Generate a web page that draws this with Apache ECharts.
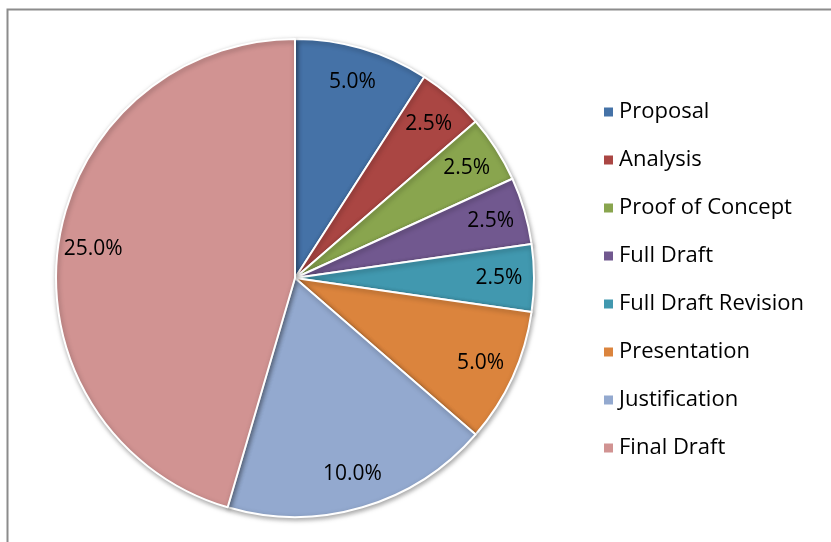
<!DOCTYPE html>
<html>
<head>
<meta charset="utf-8">
<script src="https://cdn.jsdelivr.net/npm/echarts@6/dist/echarts.min.js"></script>
<style>
  html, body { margin: 0; padding: 0; background: #fff; }
  #main { width: 831px; height: 542px; }
</style>
</head>
<body>
<div id="main"></div>
<script>
const categories = ['Proposal', 'Analysis', 'Proof of Concept', 'Full Draft', 'Full Draft Revision', 'Presentation', 'Justification', 'Final Draft']
const values = [5, 2.5, 2.5, 2.5, 2.5, 5, 10, 25]
const colors = ['#4572A7', '#AA4643', '#89A54E', '#71588F', '#4198AF', '#DB843D', '#93A9CF', '#D19392']

const fontFamily = '"Open Sans", "Noto Sans", sans-serif'
const data = categories.map((name, i) => ({ name, value: values[i] }))

const chartDom = document.getElementById('main')
const myChart = echarts.init(chartDom)
const option = {
  animation: false,
  color: colors,
  graphic: [
    {
      type: 'rect',
      shape: { x: 7.5, y: 9.5, width: 840, height: 560 },
      style: { fill: 'none', stroke: '#8c8c8c', lineWidth: 2 },
      z: -1
    }
  ],
  legend: {
    orient: 'vertical',
    left: 597,
    top: 95,
    icon: 'rect',
    itemWidth: 11,
    itemHeight: 11,
    itemGap: 24,
    textStyle: { fontFamily, fontSize: 22, lineHeight: 24, color: '#000' },
    data: categories
  },
  series: [
    {
      type: 'pie',
      center: [295, 278],
      radius: 239,
      startAngle: 90,
      clockwise: true,
      data: data,
      label: { show: false },
      labelLine: { show: false },
      itemStyle: {
        borderColor: '#fff',
        borderWidth: 2,
        shadowBlur: 5,
        shadowOffsetX: 1,
        shadowOffsetY: 2,
        shadowColor: 'rgba(0,0,0,0.35)'
      },
      emphasis: { disabled: true }
    },
    {
      // label layer only, so labels sit at ~0.84 of the radius
      type: 'pie',
      center: [295, 278],
      radius: [163, 239],
      startAngle: 90,
      clockwise: true,
      data: data,
      silent: true,
      itemStyle: { color: 'rgba(0,0,0,0)' },
      label: {
        show: true,
        position: 'inside',
        formatter: p => p.value.toFixed(1) + '%',
        fontFamily,
        fontSize: 21,
        color: '#000'
      },
      labelLine: { show: false },
      emphasis: { disabled: true }
    }
  ]
}
option && myChart.setOption(option)
</script>
</body>
</html>
